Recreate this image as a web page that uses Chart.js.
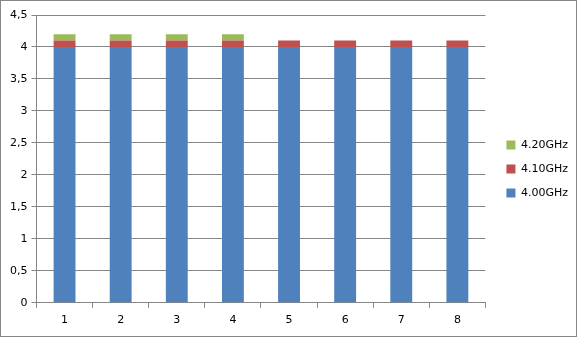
<!DOCTYPE html>
<html>
<head>
<meta charset="utf-8">
<script src="https://cdn.jsdelivr.net/npm/chart.js@4/dist/chart.umd.min.js"></script>
<style>
  html, body { margin: 0; padding: 0; background: #fff; }
  #wrap { width: 575px; height: 335px; border: 1px solid #868686; position: relative; }
</style>
</head>
<body>
<div id="wrap"><canvas id="c" width="575" height="335"></canvas></div>
<script>
// chart data
const categories = ["1", "2", "3", "4", "5", "6", "7", "8"];
const base400 = [4, 4, 4, 4, 4, 4, 4, 4];
const step410 = [0.1, 0.1, 0.1, 0.1, 0.1, 0.1, 0.1, 0.1];
const step420 = [0.1, 0.1, 0.1, 0.1, 0, 0, 0, 0];
const yTicks = [0, 0.5, 1, 1.5, 2, 2.5, 3, 3.5, 4, 4.5];

const fontFamily = "'DejaVu Sans', Verdana, sans-serif";
const gridColor = "#868686";

// nudge the legend a bit right / up, like the Excel original
const legendNudge = {
  id: "legendNudge",
  beforeDraw(chart) {
    const lg = chart.legend;
    if (!lg || lg._nudged) return;
    lg.left += 8; lg.right += 8;
    lg.top -= 5; lg.bottom -= 5;
    lg._nudged = true;
  }
};

new Chart(document.getElementById("c"), {
  type: "bar",
  data: {
    labels: categories,
    datasets: [
      { label: "4.00GHz", data: base400, backgroundColor: "#4f81bd", barPercentage: 0.39, categoryPercentage: 1 },
      { label: "4.10GHz", data: step410, backgroundColor: "#c0504d", barPercentage: 0.39, categoryPercentage: 1 },
      { label: "4.20GHz", data: step420, backgroundColor: "#9bbb59", barPercentage: 0.39, categoryPercentage: 1 }
    ]
  },
  plugins: [legendNudge],
  options: {
    responsive: false,
    animation: false,
    layout: { padding: { left: 5, top: 14, right: 6, bottom: 3 } },
    plugins: {
      tooltip: { enabled: false },
      legend: {
        position: "right",
        reverse: true,
        labels: {
          boxWidth: 9, boxHeight: 9, padding: 13,
          color: "#000",
          font: { family: fontFamily, size: 11 }
        }
      }
    },
    scales: {
      x: {
        stacked: true,
        grid: { drawOnChartArea: false, drawTicks: true, tickLength: 5, color: gridColor },
        border: { color: gridColor },
        ticks: { color: "#000", font: { family: fontFamily, size: 11 }, padding: 6 }
      },
      y: {
        stacked: true,
        min: 0, max: 4.5,
        afterBuildTicks: function (axis) { axis.ticks = yTicks.map(v => ({ value: v })); },
        grid: { color: gridColor, tickLength: 5 },
        border: { color: gridColor },
        ticks: {
          color: "#000", font: { family: fontFamily, size: 11 }, padding: 4,
          callback: v => String(v).replace(".", ",")
        }
      }
    }
  }
});
</script>
</body>
</html>
